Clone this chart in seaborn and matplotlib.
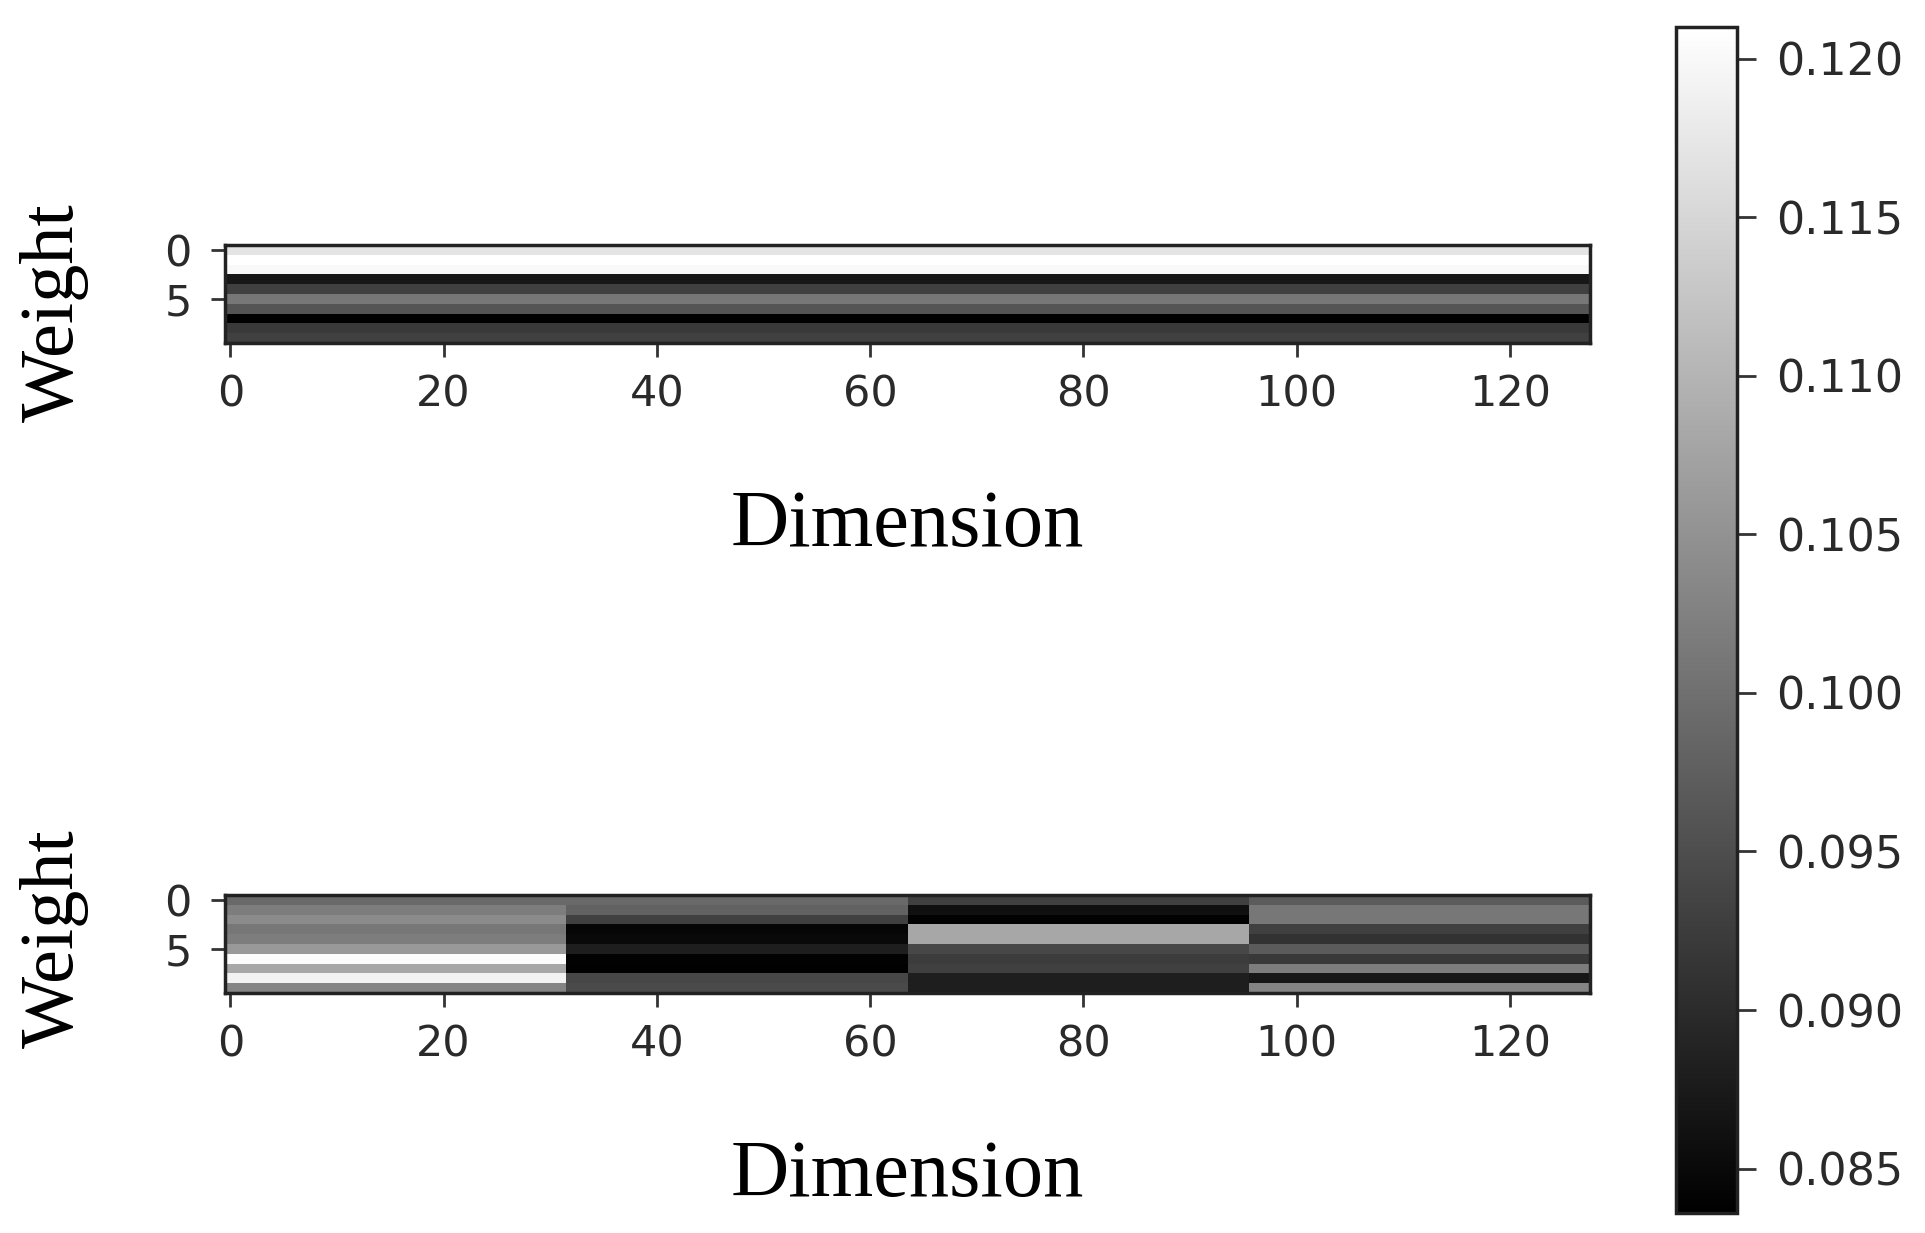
import numpy as np
import pandas as pd
import matplotlib
matplotlib.use("Agg")
import matplotlib.pyplot as plt
import seaborn as sns

# ---- data ----
n_dims = 128
weights = list(range(10))
# top panel: each weight row is constant across all dimensions
top_rows = [0.117, 0.121, 0.120, 0.087, 0.093, 0.101, 0.096, 0.0838, 0.092, 0.093]
# bottom panel: four blocks of 32 dimensions, each with 10 row values
block1 = [0.099, 0.102, 0.104, 0.101, 0.102, 0.106, 0.1205, 0.108, 0.119, 0.103]
block2 = [0.099, 0.098, 0.093, 0.0845, 0.085, 0.088, 0.084, 0.0838, 0.094, 0.0945]
block3 = [0.093, 0.086, 0.084, 0.108, 0.108, 0.094, 0.0925, 0.093, 0.088, 0.088]
block4 = [0.097, 0.101, 0.101, 0.093, 0.091, 0.097, 0.092, 0.102, 0.087, 0.103]
bottom_blocks = [block1, block2, block3, block4]
xtick_labels = [0, 20, 40, 60, 80, 100, 120]
ytick_labels = [0, 5]
cbar_ticks = [0.085, 0.090, 0.095, 0.100, 0.105, 0.110, 0.115, 0.120]
vmin, vmax = 0.0836, 0.1210

top_mat = pd.DataFrame(np.repeat(np.array(top_rows)[:, None], n_dims, axis=1), index=weights)
block_w = n_dims // len(bottom_blocks)
bot_mat = pd.DataFrame(np.hstack([np.repeat(np.array(b)[:, None], block_w, axis=1) for b in bottom_blocks]),
                       index=weights)

sns.set_theme(style="white")
plt.rcParams['font.family'] = ['DejaVu Sans']

W, H = 1925, 1233
fig = plt.figure(figsize=(W / 100, H / 100), dpi=100)
fig.patch.set_facecolor("white")

def fx(x): return x / W
def fy(y): return 1 - y / H

ax_top = fig.add_axes([fx(225), fy(343), fx(1590) - fx(225), (343 - 245) / H])
ax_bot = fig.add_axes([fx(225), fy(993), fx(1590) - fx(225), (993 - 895) / H])
cax = fig.add_axes([fx(1676), fy(1213), fx(1737) - fx(1676), (1213 - 27) / H])

tick_color = "#2a2a2a"
serif = ['Liberation Serif', 'DejaVu Serif']

for ax, mat, draw_cbar in [(ax_top, top_mat, True), (ax_bot, bot_mat, False)]:
    sns.heatmap(mat, ax=ax, cmap="gray", vmin=vmin, vmax=vmax,
                cbar=draw_cbar, cbar_ax=cax if draw_cbar else None,
                xticklabels=False, yticklabels=False)
    ax.set_xticks(np.array(xtick_labels) + 0.5)
    ax.set_xticklabels([str(v) for v in xtick_labels], rotation=0)
    ax.set_yticks(np.array(ytick_labels) + 0.5)
    ax.set_yticklabels([str(v) for v in ytick_labels], rotation=0)
    ax.tick_params(axis="x", which="both", direction="out", length=10, width=2,
                   color="#333333", labelsize=31, labelcolor=tick_color, pad=12,
                   bottom=True)
    ax.tick_params(axis="y", which="both", direction="out", length=10, width=2,
                   color="#333333", labelsize=31, labelcolor=tick_color, pad=14,
                   left=True)
    for s in ax.spines.values():
        s.set_visible(True)
        s.set_color("#222222")
        s.set_linewidth(2.5)
    ax.set_xlabel("Dimension", fontsize=58, family=serif, color="black")
    ax.set_ylabel("Weight", fontsize=55, family=serif, color="black")
    ax.xaxis.set_label_coords(0.5, -1.50)

ax_top.yaxis.set_label_coords(-0.100, 0.31)
ax_bot.yaxis.set_label_coords(-0.100, 0.55)

cb = ax_top.collections[0].colorbar
cb.set_ticks(cbar_ticks)
cb.set_ticklabels([f"{v:.3f}" for v in cbar_ticks])
cax.tick_params(labelsize=32, length=14, width=2, color="#333333", labelcolor=tick_color, pad=14)
cb.outline.set_visible(True)
cb.outline.set_edgecolor("#222222")
cb.outline.set_linewidth(2.5)

fig.savefig("out.png", dpi=100, facecolor="white")
